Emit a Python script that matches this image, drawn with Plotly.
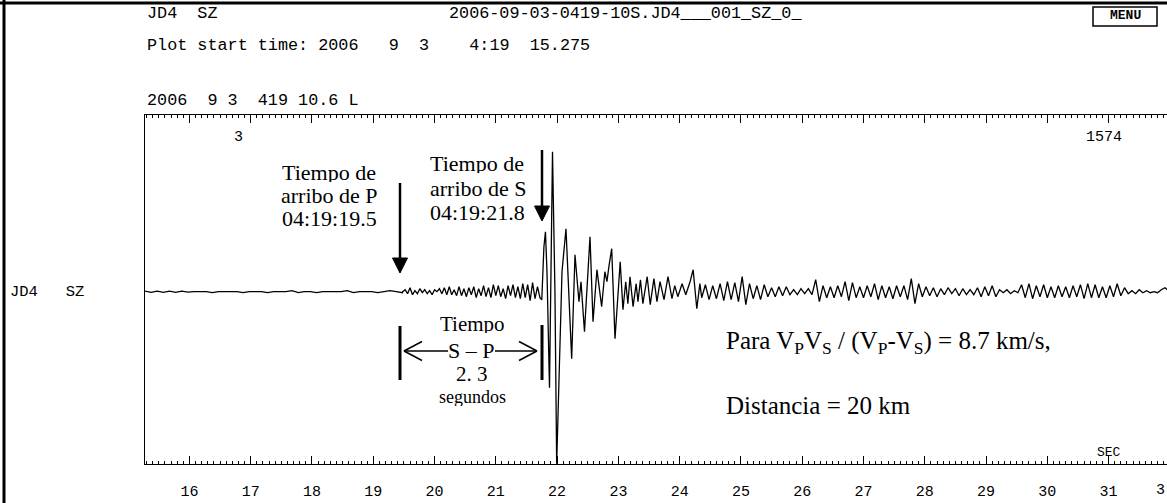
import plotly.graph_objects as go

# ---------------- data ----------------
# seismogram JD4 SZ, amplitude in display units (positive = up)
pre_start = 15.275
pre_dt = 0.1
pre_amp = [0.6, -0.6, 0.6, -0.6, 0.6, -0.6, 0.6, -0.4, 0.0, 0.0,
           0.0, -1.0, 0.0, 0.0, 0.0, 0.0, -1.0, 0.0, 0.0, 0.0,
           -1.0, 0.0, 0.0, 0.0, 1.0, -1.0, 0.0, 0.0, -1.0, 0.0,
           0.0, 0.0, 0.0, 1.0, -1.0, 0.0, 0.0, 0.0, -1.0, 0.0,
           1.0, 0.0, -1.0]

ps_start = 19.48
ps_dt = 0.04
ps_amp = [0, 2, -2, 4, -3, 1, -2, 3, -1,
          2, -2, 1, -3, 2, 0, 3, -2, 4, -3,
          5, -3, 2, -4, 5, -4, 3, -5, 4, -3,
          5, -6, 3, -4, 6, -5, 4, -6, 7, -4,
          6, -5, 3, -7, 6, -4, 7, -6, 5, -7,
          8, -6, 7, -9, 9, -7, 5, -6]

s_time = [21.75, 21.785, 21.81, 21.835, 21.876, 21.925, 21.965, 21.993, 22.03, 22.08,
          22.145, 22.19, 22.238, 22.292, 22.357, 22.39, 22.447, 22.537, 22.586, 22.65,
          22.727, 22.78, 22.813, 22.85, 22.891, 22.945, 23.03, 23.075, 23.12, 23.155,
          23.19, 23.24, 23.29, 23.32, 23.36, 23.40, 23.47, 23.52, 23.58, 23.63,
          23.68, 23.745, 23.81, 23.875, 23.92, 23.97, 24.04, 24.10, 24.17, 24.22,
          24.28, 24.33]
s_amp = [-8, 45, 60, 20, -96, 140, 0, -172, -80, 20,
         63, 0, -67, 37, -10, 10, -40, 55, -30, 22,
         -15, 20, 10, 27, 43, -47, 30, -18, 10, -12,
         15, -15, 8, -10, 12, -12, 15, -13, 13, -10,
         10, -8, 15, -7, 6, -5, 8, -3, 10, 22,
         -17, 8]

coda_start = 24.36
coda_dt = 0.06
coda_amp = [-6, 7, -8, 6, -7, 8,
            -9, 10, -8, 9, -10, 15, -13,
            8, -7, 6, -8, 7,
            -5, 4, -5, 5, -4, 5,
            -3, 2, -3, 3, -2, 3, -3,
            12, -10, 6,
            -6, 5, -6, 6, -5,
            10, -9, 9,
            -6, 5, -6, 6, -5,
            8, -8,
            6, -6, 5, -7, 6, -5, 6,
            -8, 13, -12, 8,
            -5, 5, -4, 4, -5,
            3, -3, 4, -2, 3, -4, 3, -3, 2, -3, 4,
            -5, 5, -4, 6, -5,
            2, -1, 2, -2, 1, -1,
            7, -6, 8, -7, 6, -5, 7,
            -6, 5, -6, 6, -5, 5, -6, 6, -5,
            7, -7, 8, -6, 7, -6, 5, -6,
            6, -5, 8, -4, 4,
            -2, 1, -2, 2, -1, 1, -1, 0, -1,
            2, 4, 1]

x_start, x_end = 15.275, 31.953
y_low, y_high = -172.3, 176.7
tick_start = 16

header_station = "JD4  SZ"
header_file = "2006-09-03-0419-10S.JD4___001_SZ_0_"
header_start = "Plot start time: 2006   9  3    4:19  15.275"
header_origin = "2006  9 3  419 10.6 L"
trace_label = "JD4   SZ"
sample_first, sample_last = "3", "1574"
edge_tick_text = "3"   # the "32" tick label, cut by the right edge in the reference

# ---------------- build trace ----------------
t = [pre_start + i * pre_dt for i in range(len(pre_amp))]
a = list(pre_amp)
t += [ps_start + i * ps_dt for i in range(len(ps_amp))]
a += ps_amp
t += s_time
a += s_amp
t += [coda_start + i * coda_dt for i in range(len(coda_amp))]
a += coda_amp

W, H = 1167, 503
PL, PR, PT, PB = 145, 1167, 115, 464


def px(x):
    return (x - PL) / (PR - PL)


def py(y):
    return (PB - y) / (PB - PT)


MONO = "Liberation Mono, Courier New, monospace"
SERIF = "Liberation Serif, Times New Roman, serif"


def nb(s):
    return s.replace(" ", "\u00a0")


fig = go.Figure()
fig.add_trace(go.Scatter(x=t, y=a, mode="lines",
                         line=dict(color="black", width=1.3),
                         hoverinfo="skip", showlegend=False))
fig.add_trace(go.Scatter(x=[t[0]], y=[0], xaxis="x2", mode="markers",
                         marker=dict(opacity=0), hoverinfo="skip", showlegend=False))

ann = []


def text(x, y, s, size, font=MONO, xanchor="left", h=None, pad=1):
    d = dict(x=px(x), y=py(y), xref="paper", yref="paper", text=s,
             showarrow=False, xanchor=xanchor, yanchor="middle", borderpad=pad,
             font=dict(family=font, size=size, color="black"))
    if h:
        d["height"] = h
    ann.append(d)


# header (monospace)
text(145, 14, nb(header_station), 16.8)
text(447, 14, nb(header_file), 16.8)
text(145, 46, nb(header_start), 16.8)
text(145, 100, nb(header_origin), 16.8)
text(238, 137, sample_first, 15, xanchor="center")
text(1104, 137, sample_last, 15, xanchor="center")
text(8, 292, nb(trace_label), 15.5)
text(1109, 452, "SEC", 13, xanchor="center")
text(1166, 490, edge_tick_text, 15, xanchor="right", pad=0)
ann.append(dict(x=px(1125), y=py(16), xref="paper", yref="paper",
                text="<b>MENU</b>", showarrow=False, xanchor="center", yanchor="middle",
                font=dict(family=MONO, size=13, color="black")))

# P label
text(329, 172, "Tiempo de", 22, SERIF, "center", 20)
text(329, 195, "arribo de P", 22, SERIF, "center", 20)
text(329, 218, "04:19:19.5", 22, SERIF, "center", 20)
# S label
text(428, 163, "Tiempo de", 22, SERIF, h=20)
text(428, 188, "arribo de S", 22, SERIF, h=20)
text(428, 212, "04:19:21.8", 22, SERIF, h=20)
# S - P
text(472, 323, "Tiempo", 21, SERIF, "center", 19)
text(471, 350, "S \u2013 P", 22, SERIF, "center", 18)
text(472, 374, "2. 3", 21, SERIF, "center", 18)
text(472, 397, "segundos", 18, SERIF, "center", 18)
# right text
text(724, 342, "Para V<sub>P</sub>V<sub>S</sub> / (V<sub>P</sub>-V<sub>S</sub>) = 8.7 km/s,", 25, SERIF)
text(724, 405, "Distancia = 20 km", 25, SERIF)

shapes = []


def line(x0, y0, x1, y1, w=1.5):
    shapes.append(dict(type="line", xref="paper", yref="paper",
                       x0=px(x0), y0=py(y0), x1=px(x1), y1=py(y1),
                       line=dict(color="black", width=w)))


def tri(xc, ybase, ytip, half):
    path = "M {} {} L {} {} L {} {} Z".format(px(xc - half), py(ybase), px(xc + half), py(ybase),
                                             px(xc), py(ytip))
    shapes.append(dict(type="path", xref="paper", yref="paper", path=path,
                       fillcolor="black", line=dict(color="black", width=1)))


# outer frame
line(0, 3, 1167, 3, 3)
line(4, 0, 4, 503, 3)
# MENU box
shapes.append(dict(type="rect", xref="paper", yref="paper",
                   x0=px(1093), x1=px(1157), y0=py(7), y1=py(26),
                   line=dict(color="black", width=1.5), fillcolor="white", layer="below"))
# P arrow
line(400, 183, 400, 259, 2.5)
tri(400, 258, 273, 7.5)
# S arrow
line(542, 150, 542, 207, 2.5)
tri(542, 206, 221, 7.5)
# S-P bars and arrows
line(400, 326, 400, 380, 3)
line(542, 325, 542, 380, 3)
line(404, 351, 448, 351, 1.5)
line(404, 351, 422, 341.5, 1.5)
line(404, 351, 422, 360.5, 1.5)
line(495, 351, 537, 351, 1.5)
line(537, 351, 519, 341.5, 1.5)
line(537, 351, 519, 360.5, 1.5)

axis_common = dict(range=[x_start, x_end], showgrid=False, zeroline=False,
                   showline=True, linecolor="black", linewidth=1.3,
                   ticks="inside", ticklen=8, tickwidth=1.3, tickcolor="black",
                   tick0=tick_start, dtick=1,
                   minor=dict(ticks="inside", ticklen=3, tickwidth=1, tickcolor="black",
                              dtick=0.1, tick0=0, showgrid=False))

fig.update_layout(
    width=W, height=H,
    margin=dict(l=PL, r=W - PR, t=PT, b=H - PB, pad=0),
    paper_bgcolor="white", plot_bgcolor="white",
    showlegend=False,
    xaxis=dict(**axis_common, side="bottom",
               tickfont=dict(family=MONO, size=15, color="black"),
               ticklabelstandoff=13),
    xaxis2=dict(**axis_common, overlaying="x", side="top", anchor="y",
                matches="x", showticklabels=False),
    yaxis=dict(range=[y_low, y_high], showgrid=False, zeroline=False,
               showline=True, linecolor="black", linewidth=1.3,
               ticks="", showticklabels=False),
    annotations=ann,
    shapes=shapes,
)

fig.write_html("out.html", config={"displayModeBar": False})
